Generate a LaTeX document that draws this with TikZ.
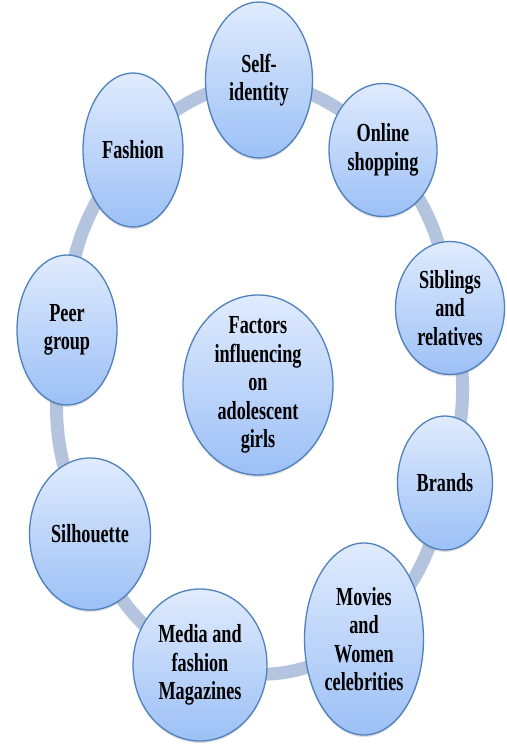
\documentclass[tikz,border=0pt]{standalone}
\usepackage{fontspec}
\setmainfont{Liberation Serif}[FakeStretch=0.7]
\usetikzlibrary{shapes.geometric,backgrounds,shadows}
\definecolor{ringblue}{RGB}{181,196,222}
\definecolor{edgeblue}{RGB}{79,129,189}
\definecolor{topblue}{RGB}{224,235,253}
\definecolor{botblue}{RGB}{156,192,246}
\tikzset{
factor/.style 2 args={ellipse,draw=edgeblue,line width=1.3pt,top color=topblue,bottom color=botblue,minimum width=#1,minimum height=#2,inner sep=0pt,align=center,font=\bfseries\fontsize{26}{28.5}\selectfont,drop shadow={opacity=0.25,shadow xshift=0pt,shadow yshift=-2pt}},
ring/.style={line width=13pt,draw=ringblue}
}

\begin{document}
\begin{tikzpicture}[x=1pt,y=1pt]
\useasboundingbox (0,0) rectangle (506,744);
\node[factor={150pt}{180pt},inner ysep=-7pt] (FI) at(258,359) {Factors\\influencing\\on\\adolescent\\girls};
\node[factor={107pt}{156pt}] (SI) at(259,664) {Self-\\identity};
\node[factor={108pt}{133pt}] (OS) at(383,594) {Online\\shopping};
\node[factor={109pt}{133pt}] (SR) at(450,436) {Siblings\\and\\relatives};
\node[factor={95pt}{134pt}] (BR) at(445,261) {Brands};
\node[factor={119pt}{192pt}] (MW) at(364,105) {Movies\\and\\Women\\celebrities};
\node[factor={134pt}{152pt}] (MF) at(200,79) {Media and\\fashion\\Magazines};
\node[factor={121pt}{152pt}] (SL) at(90,210) {Silhouette};
\node[factor={100pt}{150pt}] (PG) at(67,414) {Peer\\group};
\node[factor={100pt}{154pt}] (FS) at(133,594) {Fashion};
\begin{scope}[on background layer]
\foreach \a/\b/\t in {SI/OS/20,OS/SR/18,SR/BR/17,BR/MW/19,MW/MF/25,MF/SL/21,SL/PG/20,PG/FS/20,FS/SI/20}
  \draw[ring] (\a.center) to[bend left=\t] (\b.center);
\end{scope}
\end{tikzpicture}
\end{document}
